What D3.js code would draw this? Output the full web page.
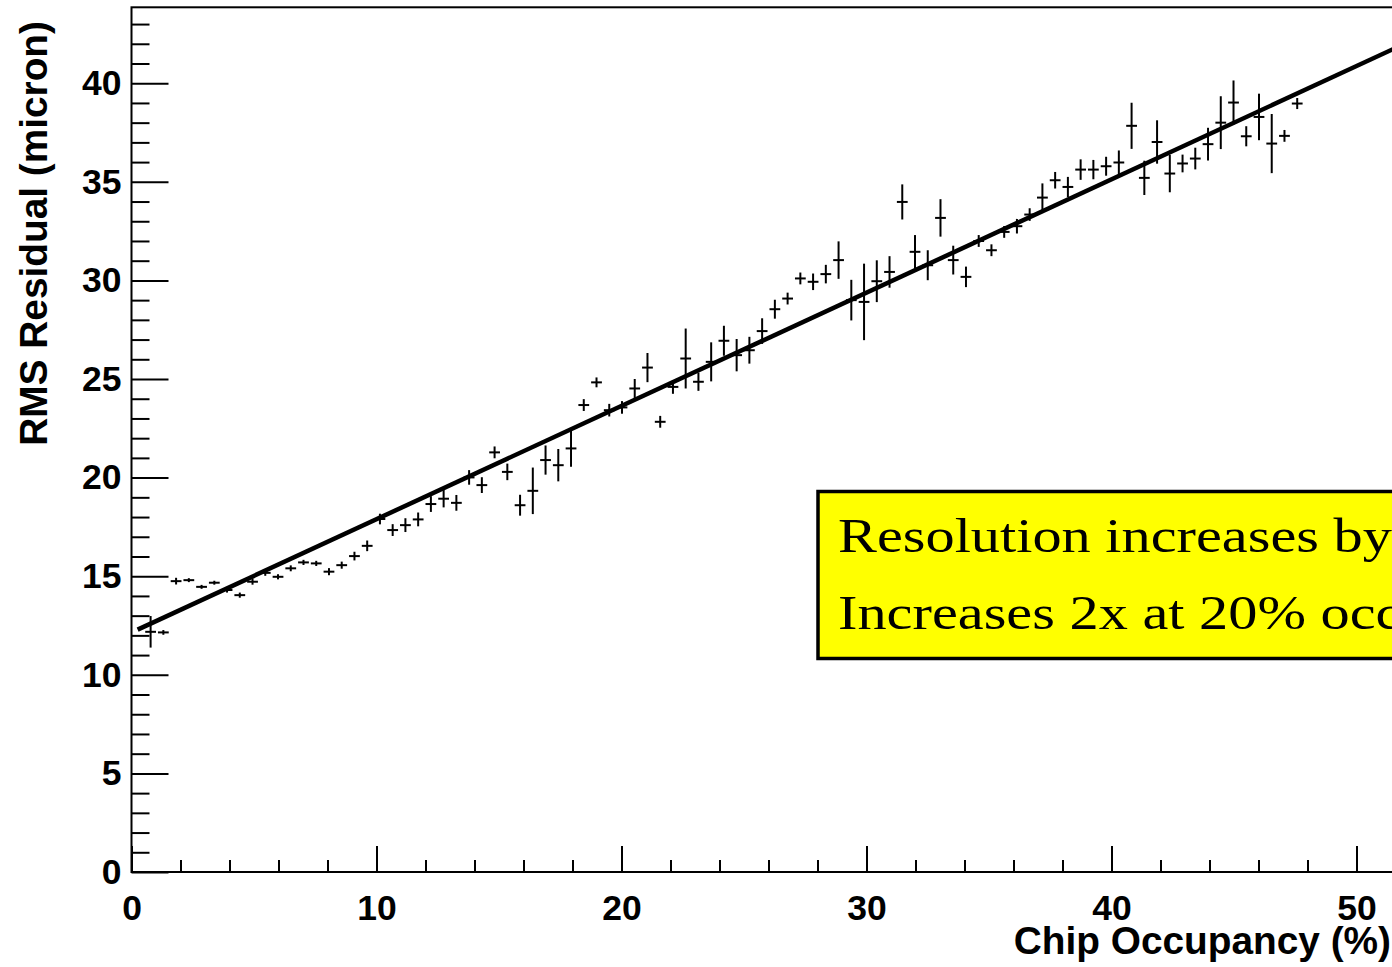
<!DOCTYPE html>
<html>
<head>
<meta charset="utf-8">
<script src="https://cdn.jsdelivr.net/npm/d3@7"></script>
<style>
  body { margin: 0; overflow: hidden; background: #fff; }
  svg { display: block; }
</style>
</head>
<body>
<script>
// Chip occupancy bin centers (%)
const occupancy = [0.78, 1.30, 1.82, 2.34, 2.86, 3.38, 3.90, 4.42, 4.94, 5.46,
  5.98, 6.50, 7.02, 7.54, 8.06, 8.58, 9.10, 9.62, 10.14, 10.66,
  11.18, 11.70, 12.22, 12.74, 13.26, 13.78, 14.30, 14.82, 15.34, 15.86,
  16.38, 16.90, 17.42, 17.94, 18.46, 18.98, 19.50, 20.02, 20.54, 21.06,
  21.58, 22.10, 22.62, 23.14, 23.66, 24.18, 24.70, 25.22, 25.74, 26.26,
  26.78, 27.30, 27.82, 28.34, 28.86, 29.38, 29.90, 30.42, 30.94, 31.46,
  31.98, 32.50, 33.02, 33.54, 34.06, 34.58, 35.10, 35.62, 36.14, 36.66,
  37.18, 37.70, 38.22, 38.74, 39.26, 39.78, 40.30, 40.82, 41.34, 41.86,
  42.38, 42.90, 43.42, 43.94, 44.46, 44.98, 45.50, 46.02, 46.54, 47.06, 47.58];

// RMS residual (micron) per bin
const rmsResidual = [12.18, 12.15, 14.75, 14.80, 14.46, 14.67, 14.30, 14.04, 14.72, 15.17,
  14.97, 15.40, 15.70, 15.65, 15.23, 15.56, 16.02, 16.54, 17.90, 17.34,
  17.59, 17.88, 18.66, 18.93, 18.72, 20.01, 19.62, 21.28, 20.29, 18.60,
  19.33, 20.89, 20.63, 21.48, 23.68, 24.83, 23.42, 23.56, 24.52, 25.58,
  22.83, 24.60, 26.04, 24.86, 25.87, 26.94, 26.21, 26.46, 27.43, 28.54,
  29.08, 30.10, 29.93, 30.32, 31.03, 29.00, 28.91, 29.96, 30.43, 33.98,
  31.45, 30.77, 33.17, 31.03, 30.18, 32.00, 31.53, 32.46, 32.75, 33.34,
  34.20, 35.08, 34.74, 35.62, 35.62, 35.79, 35.98, 37.84, 35.20, 37.02,
  35.42, 35.93, 36.18, 36.91, 38.00, 39.02, 37.31, 38.29, 36.94, 37.33, 38.97];

// error on the RMS residual per bin
const rmsError = [0.80, 0.12, 0.17, 0.10, 0.10, 0.10, 0.13, 0.13, 0.15, 0.15,
  0.13, 0.15, 0.13, 0.13, 0.18, 0.18, 0.22, 0.27, 0.27, 0.30,
  0.35, 0.35, 0.40, 0.44, 0.40, 0.37, 0.40, 0.30, 0.42, 0.53,
  1.18, 0.74, 0.82, 0.93, 0.30, 0.25, 0.32, 0.32, 0.48, 0.74,
  0.30, 0.35, 1.52, 0.46, 0.99, 0.76, 0.82, 0.68, 0.65, 0.48,
  0.30, 0.30, 0.42, 0.47, 0.95, 1.03, 1.94, 1.06, 0.80, 0.89,
  0.85, 0.76, 0.95, 0.73, 0.52, 0.30, 0.30, 0.30, 0.37, 0.32,
  0.72, 0.42, 0.51, 0.52, 0.49, 0.48, 0.61, 1.17, 0.87, 1.10,
  0.95, 0.45, 0.55, 0.83, 1.34, 1.12, 0.51, 1.18, 1.50, 0.30, 0.28];

// half bin width drawn as the horizontal bar
const binHalfWidth = 0.22;

// linear fit, drawn between its two end points
const fitX = [0.25, 52];
const fitY = [12.29, 42.02];

const xMajorTicks = [0, 10, 20, 30, 40, 50];
const yMajorTicks = [0, 5, 10, 15, 20, 25, 30, 35, 40];

const boxLines = ["Resolution increases by", "Increases 2x at 20% occupancy"];

const svgWidth = 1392;
const svgHeight = 967;

let svg = d3.select("body")
  .append("svg")
  .attr("width", svgWidth)
  .attr("height", svgHeight);

// frame runs slightly past the window on the right
let xScale = d3.scaleLinear().domain([0, 52]).range([131.5, 1405.5]);
let yScale = d3.scaleLinear().domain([0, 43.85]).range([872, 7.3]);

const sansBold = "'Liberation Sans', Arial, Helvetica, sans-serif";

// minor ticks
let xMinor = d3.range(0, 53, 2).filter(v => v % 10 !== 0);
let yMinor = d3.range(0, 44, 1).filter(v => v % 5 !== 0);

svg.append("g")
  .attr("transform", `translate(0, ${yScale(0)})`)
  .call(d3.axisBottom(xScale).tickValues(xMinor).tickSize(-12).tickFormat(""))
  .call(g => g.select(".domain").remove());

svg.append("g")
  .attr("transform", `translate(${xScale(0)}, 0)`)
  .call(d3.axisLeft(yScale).tickValues(yMinor).tickSize(-18).tickFormat(""))
  .call(g => g.select(".domain").remove());

// major ticks with labels
svg.append("g")
  .attr("transform", `translate(0, ${yScale(0)})`)
  .call(d3.axisBottom(xScale).tickValues(xMajorTicks).tickSize(-26).tickPadding(23).tickFormat(d3.format("d")))
  .call(g => g.select(".domain").remove());

svg.append("g")
  .attr("transform", `translate(${xScale(0)}, 0)`)
  .call(d3.axisLeft(yScale).tickValues(yMajorTicks).tickSize(-37).tickPadding(10).tickFormat(d3.format("d")))
  .call(g => g.select(".domain").remove());

svg.selectAll(".tick line").attr("stroke", "#000").attr("stroke-width", 2);
svg.selectAll(".tick text")
  .attr("fill", "#000")
  .style("font-family", sansBold)
  .style("font-weight", "bold")
  .style("font-size", "35.5px");

// frame
svg.append("rect")
  .attr("x", xScale(0))
  .attr("y", yScale(43.85))
  .attr("width", xScale(52) - xScale(0))
  .attr("height", yScale(0) - yScale(43.85))
  .attr("fill", "none")
  .attr("stroke", "#000")
  .attr("stroke-width", 2);

// axis titles
svg.append("text")
  .attr("x", 1391)
  .attr("y", 954)
  .attr("text-anchor", "end")
  .style("font-family", sansBold)
  .style("font-weight", "bold")
  .style("font-size", "38.8px")
  .text("Chip Occupancy (%)");

svg.append("text")
  .attr("transform", "translate(46.5, 21) rotate(-90)")
  .attr("text-anchor", "end")
  .style("font-family", sansBold)
  .style("font-weight", "bold")
  .style("font-size", "38.8px")
  .text("RMS Residual (micron)");

// data points with error bars
let points = occupancy.map((c, i) => ({ x: c, y: rmsResidual[i], e: rmsError[i] }));

let pointGroup = svg.append("g").attr("stroke", "#000").attr("stroke-width", 2);

pointGroup.selectAll("line.ey")
  .data(points)
  .enter()
  .append("line")
  .classed("ey", true)
  .attr("x1", d => xScale(d.x))
  .attr("x2", d => xScale(d.x))
  .attr("y1", d => yScale(d.y - d.e))
  .attr("y2", d => yScale(d.y + d.e));

pointGroup.selectAll("line.ex")
  .data(points)
  .enter()
  .append("line")
  .classed("ex", true)
  .attr("x1", d => xScale(d.x - binHalfWidth))
  .attr("x2", d => xScale(d.x + binHalfWidth))
  .attr("y1", d => yScale(d.y))
  .attr("y2", d => yScale(d.y));

// fit line
let createLine = d3.line()
  .x(d => xScale(d[0]))
  .y(d => yScale(d[1]));

svg.append("path")
  .attr("d", createLine(fitX.map((v, i) => [v, fitY[i]])))
  .attr("fill", "none")
  .attr("stroke", "#000")
  .attr("stroke-width", 4.5);

// yellow text box
svg.append("rect")
  .attr("x", 818)
  .attr("y", 491.5)
  .attr("width", 700)
  .attr("height", 167)
  .attr("fill", "#ffff00")
  .attr("stroke", "#000")
  .attr("stroke-width", 3.5);

let boxText = svg.append("g");
let textNodes = boxText.selectAll("text")
  .data(boxLines)
  .enter()
  .append("text")
  .attr("x", 0)
  .attr("y", (d, i) => i === 0 ? 0 : 77)
  .style("font-family", "'Liberation Serif', 'Times New Roman', serif")
  .style("font-size", "48px")
  .attr("fill", "#000")
  .text(d => d);

// stretch the serif text to the width of the original lines
let firstWidth = textNodes.node().getComputedTextLength();
let stretch = 554 / firstWidth;
boxText.attr("transform", `translate(838, 552) scale(${stretch}, 1)`);
</script>
</body>
</html>
